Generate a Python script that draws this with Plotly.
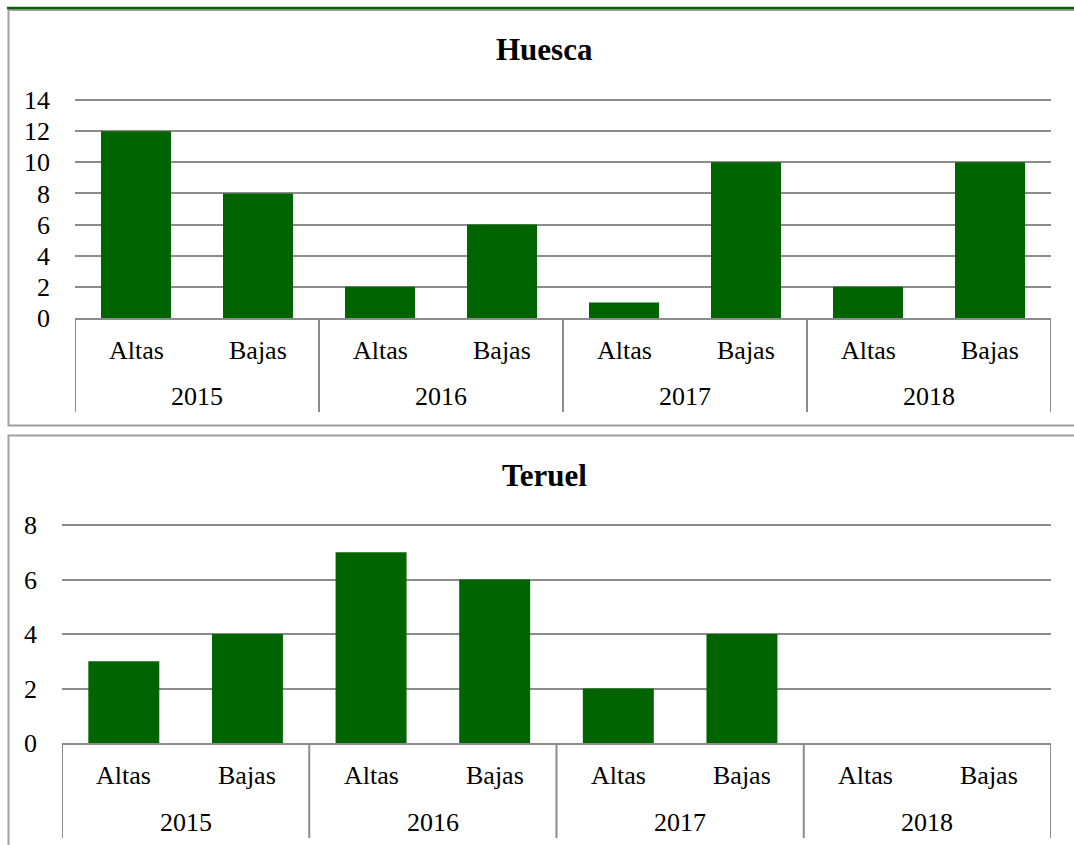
import plotly.graph_objects as go

years = ["2015", "2016", "2017", "2018"]
kinds = ["Altas", "Bajas"]
huesca = [12, 8, 2, 6, 1, 10, 2, 10]
teruel = [3, 4, 7, 6, 2, 4, 0, 0]
huesca_ticks = [0, 2, 4, 6, 8, 10, 12, 14]
teruel_ticks = [0, 2, 4, 6, 8]

W, H = 1074, 845
GREEN = "#006400"
GRID = "#8c8c8c"
BORDER = "#a0a0a0"
FONT = "Liberation Serif"
FS = 26

cats = [f"{y} {k}" for y in years for k in kinds]
labels = [k for y in years for k in kinds]

def px(x):
    return x / W

def py(y):
    return 1 - y / H

fig = go.Figure()
fig.add_trace(go.Bar(x=cats, y=huesca, marker_color=GREEN, marker_line_width=0,
                     xaxis="x", yaxis="y", showlegend=False))
fig.add_trace(go.Bar(x=cats, y=teruel, marker_color=GREEN, marker_line_width=0,
                     xaxis="x2", yaxis="y2", showlegend=False))

panels = [
    dict(x="x", y="y", xd=[px(75), px(1051)], yd=[py(318), py(99)], rng=[0, 14.07],
         ticks=huesca_ticks, lab_y=350, year_y=396, div_bot=412, title="Huesca", title_y=50),
    dict(x="x2", y="y2", xd=[px(62), px(1051)], yd=[py(743), py(524)], rng=[0, 8.04],
         ticks=teruel_ticks, lab_y=775, year_y=822, div_bot=838, title="Teruel", title_y=476),
]

layout = dict(
    width=W, height=H, margin=dict(l=0, r=0, t=0, b=0, pad=0, autoexpand=False),
    paper_bgcolor="white", plot_bgcolor="white", bargap=0.426,
    font=dict(family=FONT, size=FS, color="black"),
)
shapes = []
annotations = []
for i, p in enumerate(panels):
    sfx = "" if i == 0 else "2"
    layout["xaxis" + sfx] = dict(domain=p["xd"], anchor=p["y"], type="category",
                                 categoryorder="array", categoryarray=cats,
                                 showticklabels=False, showgrid=False, zeroline=False,
                                 showline=True, linecolor=GRID, linewidth=2,
                                 automargin=False,
                                 range=[-0.5, len(cats) - 0.5], fixedrange=True)
    layout["yaxis" + sfx] = dict(domain=p["yd"], anchor=p["x"], range=p["rng"],
                                 tickvals=p["ticks"], showgrid=True, gridcolor=GRID,
                                 gridwidth=2, zeroline=False, showline=False,
                                 ticks="", ticklabelstandoff=24, automargin=False,
                                 tickfont=dict(family=FONT, size=FS, color="black"),
                                 fixedrange=True)
    xr = p["x"]
    for k in range(len(years) + 1):
        xv = -0.5 + k * len(kinds)
        shapes.append(dict(type="line", xref=xr, yref="paper", x0=xv, x1=xv,
                           y0=p["yd"][0], y1=py(p["div_bot"]),
                           line=dict(color=GRID, width=2)))
    for j, lab in enumerate(labels):
        annotations.append(dict(x=j, y=py(p["lab_y"]), xref=xr, yref="paper",
                                text=lab, showarrow=False, yanchor="middle",
                                font=dict(family=FONT, size=FS, color="black")))
    for k, yr in enumerate(years):
        annotations.append(dict(x=k * len(kinds) + (len(kinds) - 1) / 2, y=py(p["year_y"]),
                                xref=xr, yref="paper", text=yr, showarrow=False,
                                yanchor="middle",
                                font=dict(family=FONT, size=FS, color="black")))
    annotations.append(dict(x=px(544), y=py(p["title_y"]), xref="paper", yref="paper",
                            text="<b>" + p["title"] + "</b>", showarrow=False,
                            yanchor="middle",
                            font=dict(family=FONT, size=31, color="black")))

# panel frames
shapes.append(dict(type="rect", xref="paper", yref="paper", x0=px(8.5), x1=px(1090),
                   y0=py(425.5), y1=py(10), line=dict(color=BORDER, width=2)))
shapes.append(dict(type="rect", xref="paper", yref="paper", x0=px(8.5), x1=px(1090),
                   y0=py(860), y1=py(435.5), line=dict(color=BORDER, width=2)))
shapes.append(dict(type="line", xref="paper", yref="paper", x0=px(7), x1=px(1074),
                   y0=py(8), y1=py(8), line=dict(color=GREEN, width=2.5)))

layout["shapes"] = shapes
layout["annotations"] = annotations
fig.update_layout(**layout)
fig.write_html("out.html", config=dict(displayModeBar=False),
               post_script="document.body.style.margin='0';document.body.style.overflow='hidden';")
